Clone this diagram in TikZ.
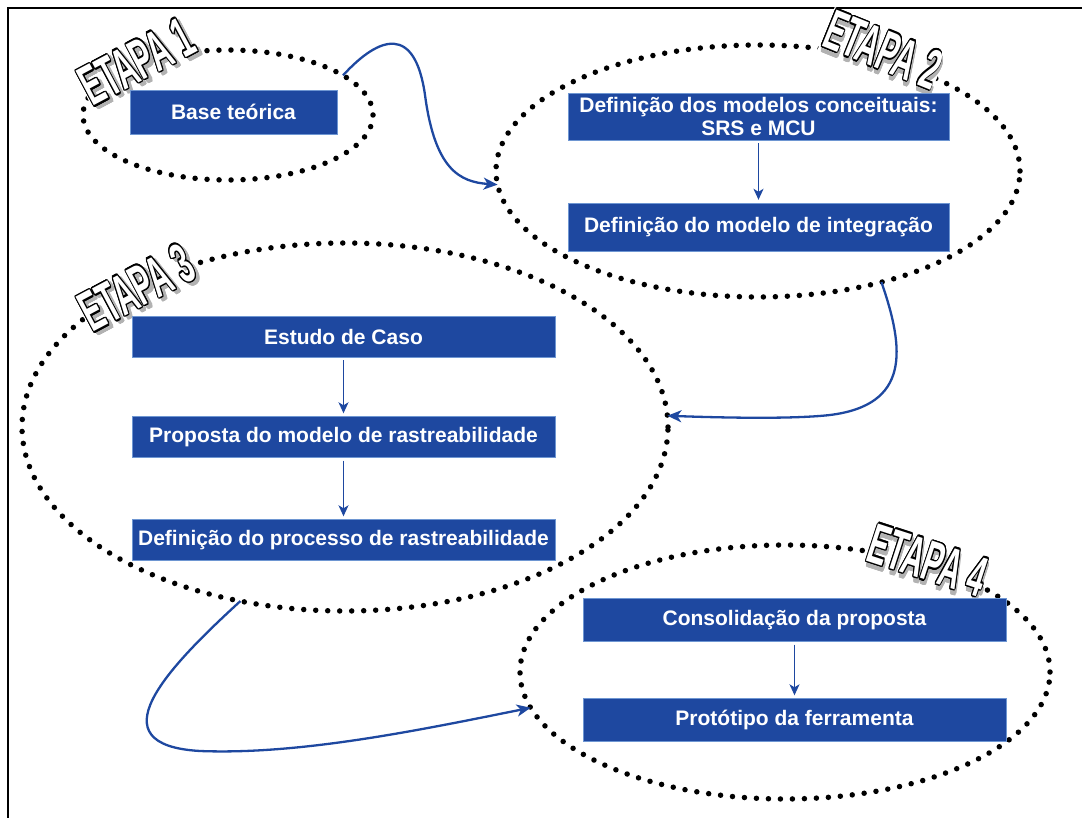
\documentclass[tikz,border=0pt]{standalone}
\usepackage{fontspec}
\setmainfont{Liberation Sans}
\usepackage{contour}
\usetikzlibrary{shapes, positioning, arrows.meta}

\definecolor{azul}{RGB}{30,72,160}
\definecolor{borda}{RGB}{110,150,210}
\contourlength{1.2pt}
\newcommand{\etapatxt}[1]{\rlap{\kern3pt\raisebox{-3pt}{\contour{gray!60}{\color{gray!60}#1}}}{\color{white}\contour{black}{#1}}}

\tikzset{
    caixa/.style={rectangle, draw=borda, fill=azul, text=white, minimum width=423, minimum height=41, inner sep=0, align=center, font=\fontsize{21}{23}\selectfont\bfseries},
    etapa/.style={ellipse, draw=black, line width=5.5pt, dash pattern=on 0pt off 12pt, line cap=round, inner sep=0, outer sep=0},
    rotulo/.style={fill=white, inner sep=1pt, font=\fontsize{42}{42}\selectfont\bfseries, xscale=.7, yscale=1.35},
    seta/.style={-{Stealth[length=11pt, width=10pt, inset=3pt]}, azul, line width=1.4pt, shorten <=3pt, shorten >=3pt},
    ligacao/.style={-{Stealth[length=14pt, width=12pt, inset=4pt]}, azul, line width=2.3pt}
}

\begin{document}
\begin{tikzpicture}[x=1pt, y=-1pt]
        \useasboundingbox (0,0) rectangle (1082,818);
        \draw[line width=1.6pt] (8,818) -- (8,8) -- (1082,8);
        
        \node[etapa, minimum width=290, minimum height=130] (e1) at (228,115) {};
        \node[etapa, minimum width=524, minimum height=252] (e2) at (758,171) {};
        \node[etapa, minimum width=646, minimum height=368] (e3) at (345,427) {};
        \node[etapa, minimum width=530, minimum height=254] (e4) at (785,672) {};
        
        \node[rotate=28, rotulo] (t1) at (138,64) {\etapatxt{ETAPA 1}};
        \node[rotate=-22, rotulo] (t2) at (882,52) {\etapatxt{ETAPA 2}};
        \node[rotate=28, rotulo] (t3) at (138,290) {\etapatxt{ETAPA 3}};
        \node[rotate=-18, rotulo] (t4) at (927,563) {\etapatxt{ETAPA 4}};
        
        \node[caixa, minimum width=207, minimum height=44] (base) at (233.5,112) {Base teórica};
        \node[caixa, minimum width=381, minimum height=47] (conc) at (758.5,116.5) {Definição dos modelos conceituais:\\SRS e MCU};
        \node[caixa, minimum width=381, minimum height=48] (integ) at (758.5,227) {Definição do modelo de integração};
        \node[caixa] (caso) at (343.5,336.5) {Estudo de Caso};
        \node[caixa] (prop) at (343.5,437) {Proposta do modelo de rastreabilidade};
        \node[caixa] (proc) at (343.5,540) {Definição do processo de rastreabilidade};
        \node[caixa, minimum height=43] (cons) at (794.5,620) {Consolidação da proposta};
        \node[caixa, minimum height=43] (prot) at (794.5,720) {Protótipo da ferramenta};
        
        \draw[seta] (conc) to (integ);
        \draw[seta] (caso) to (prop);
        \draw[seta] (prop) to (proc);
        \draw[seta] (cons) to (prot);
        
        \draw[ligacao] (e1.19) .. controls (380,35) and (415,25) .. (425,95)
            .. controls (435,170) and (460,182) .. (e2.183);
        \draw[ligacao] (e2.-42) .. controls (905,350) and (910,405) .. (830,415)
            .. controls (795,419) and (730,418) .. (e3.2);
        \draw[ligacao] (e3.239) .. controls (165,670) and (95,745) .. (200,751)
            .. controls (300,755) and (420,730) .. (e4.188);
    \end{tikzpicture}
\end{document}
